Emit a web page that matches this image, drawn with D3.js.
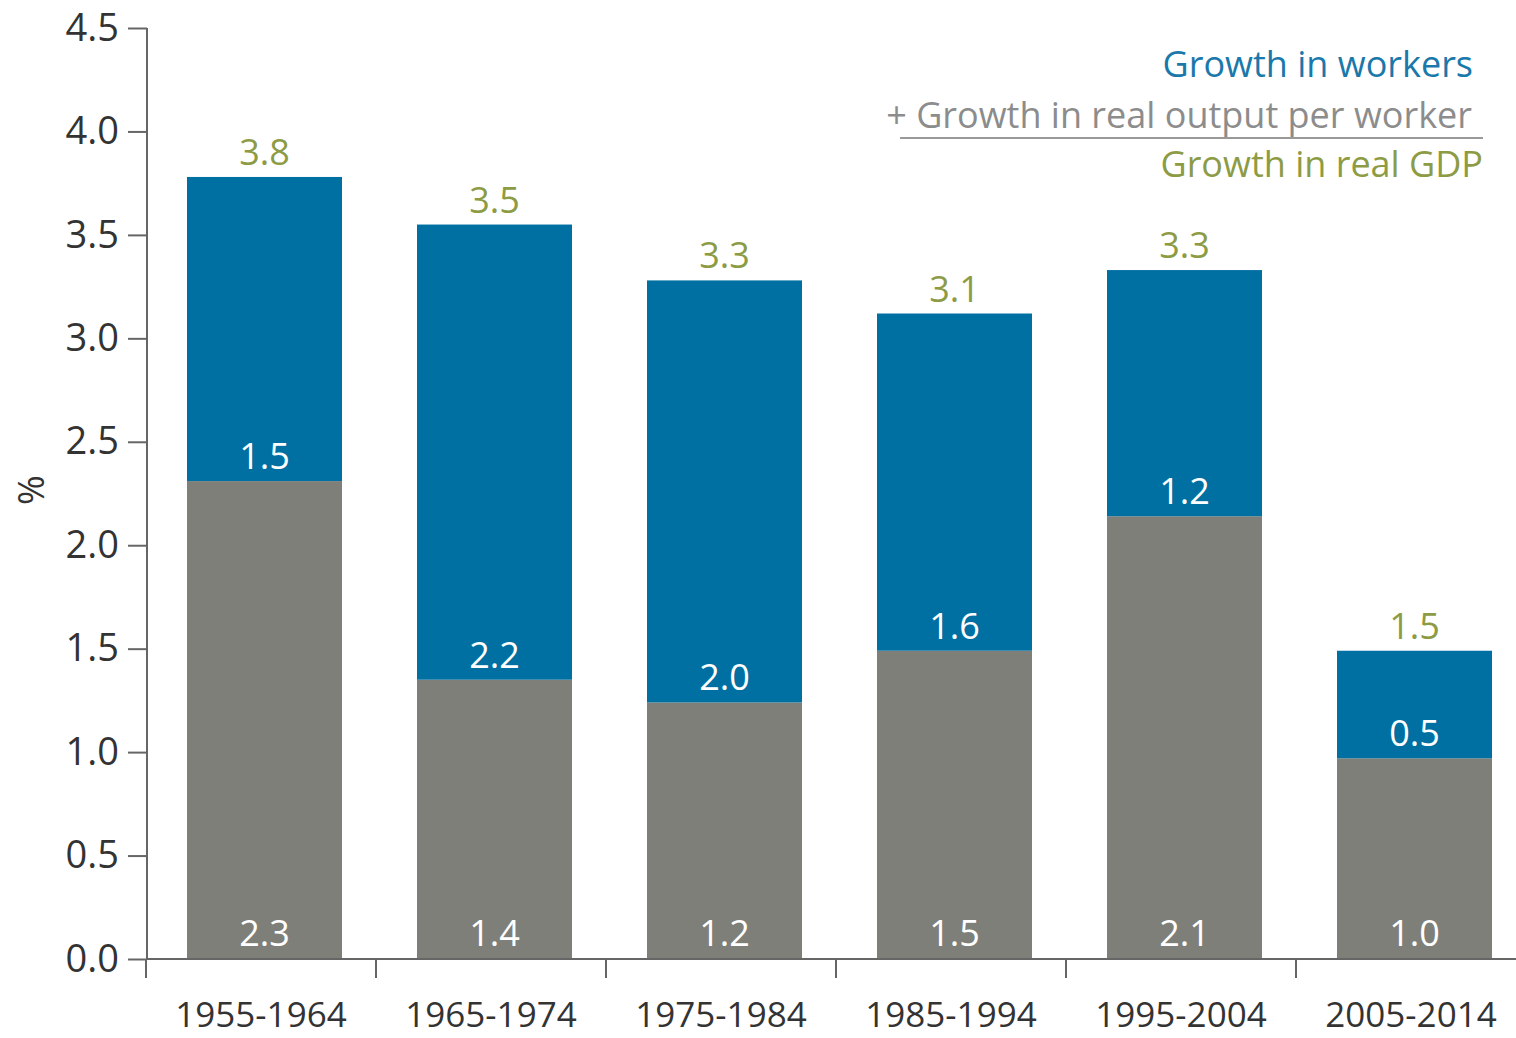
<!DOCTYPE html>
<html>
<head>
<meta charset="utf-8">
<script src="https://cdn.jsdelivr.net/npm/d3@7"></script>
<style>
  body { margin: 0; background: #fff; }
  text { font-family: "Open Sans", "Noto Sans", sans-serif; }
</style>
</head>
<body>
<div id="chart"></div>
<script>
// decades on the x axis
var periods = ["1955-1964", "1965-1974", "1975-1984", "1985-1994", "1995-2004", "2005-2014"];
// growth in real output per worker (gray, bottom) and growth in workers (blue, top), %
var outputPerWorker = [2.31, 1.35, 1.24, 1.49, 2.14, 0.97];
var workers = [1.47, 2.20, 2.04, 1.63, 1.19, 0.52];
// labels printed on the bars (as published, rounded)
var outputLabels = ["2.3", "1.4", "1.2", "1.5", "2.1", "1.0"];
var workerLabels = ["1.5", "2.2", "2.0", "1.6", "1.2", "0.5"];
var gdpLabels = ["3.8", "3.5", "3.3", "3.1", "3.3", "1.5"];
var yTicks = [0, 0.5, 1, 1.5, 2, 2.5, 3, 3.5, 4, 4.5];

var width = 1516, height = 1038;
var blue = "#0070a2", gray = "#7f7f7a", green = "#8c9b44";

var svg = d3.select("#chart")
  .append("svg")
    .attr("width", width)
    .attr("height", height);

var y = d3.scaleLinear()
    .domain([0, 4.5])
    .range([959, 28]);

// one step per decade, ticks sit on the step edges
var x = d3.scaleBand()
    .domain(periods)
    .range([146, 146 + 230 * periods.length]);
var barOffset = 41, barWidth = 155;

var data = periods.map(function(p, i) {
  return { period: p, out: outputPerWorker[i], wk: workers[i],
           outLabel: outputLabels[i], wkLabel: workerLabels[i], gdpLabel: gdpLabels[i] };
});

// bars
svg.selectAll(".out")
  .data(data)
  .enter()
  .append("rect")
    .attr("x", function(d) { return x(d.period) + barOffset; })
    .attr("y", function(d) { return y(d.out); })
    .attr("width", barWidth)
    .attr("height", function(d) { return y(0) - y(d.out); })
    .attr("fill", gray);

svg.selectAll(".wk")
  .data(data)
  .enter()
  .append("rect")
    .attr("x", function(d) { return x(d.period) + barOffset; })
    .attr("y", function(d) { return y(d.out + d.wk); })
    .attr("width", barWidth)
    .attr("height", function(d) { return y(d.out) - y(d.out + d.wk); })
    .attr("fill", blue);

// value labels
var cx = function(d) { return x(d.period) + barOffset + barWidth / 2; };
svg.selectAll(".outLab")
  .data(data)
  .enter()
  .append("text")
    .attr("x", cx)
    .attr("y", y(0) - 13)
    .attr("text-anchor", "middle")
    .attr("font-size", 36)
    .attr("fill", "#fff")
    .text(function(d) { return d.outLabel; });

svg.selectAll(".wkLab")
  .data(data)
  .enter()
  .append("text")
    .attr("x", cx)
    .attr("y", function(d) { return y(d.out) - 12; })
    .attr("text-anchor", "middle")
    .attr("font-size", 36)
    .attr("fill", "#fff")
    .text(function(d) { return d.wkLabel; });

svg.selectAll(".gdpLab")
  .data(data)
  .enter()
  .append("text")
    .attr("x", cx)
    .attr("y", function(d) { return y(d.out + d.wk) - 12; })
    .attr("text-anchor", "middle")
    .attr("font-size", 36)
    .attr("fill", green)
    .text(function(d) { return d.gdpLabel; });

// y axis
var yAxis = svg.append("g")
    .attr("transform", "translate(147,0)")
    .call(d3.axisLeft(y).tickValues(yTicks).tickFormat(d3.format(".1f")).tickSize(19).tickPadding(9));
yAxis.select(".domain").attr("stroke", "#666").attr("stroke-width", 2).attr("d", "M0," + y(4.5) + "V" + y(0));
yAxis.selectAll(".tick line").attr("stroke", "#666").attr("stroke-width", 2);
yAxis.selectAll(".tick text")
    .attr("font-size", 38)
    .attr("fill", "#333")
    .style("font-family", "'Open Sans', sans-serif");

svg.append("text")
    .attr("transform", "translate(44,490) rotate(-90)")
    .attr("text-anchor", "middle")
    .attr("font-size", 36)
    .attr("fill", "#333")
    .text("%");

// x axis
var xAxis = svg.append("g");
xAxis.append("line")
    .attr("x1", 146).attr("x2", width)
    .attr("y1", y(0)).attr("y2", y(0))
    .attr("stroke", "#666").attr("stroke-width", 2);
xAxis.selectAll(".xtick")
  .data(periods)
  .enter()
  .append("line")
    .attr("x1", function(d) { return x(d); })
    .attr("x2", function(d) { return x(d); })
    .attr("y1", y(0)).attr("y2", y(0) + 19)
    .attr("stroke", "#666").attr("stroke-width", 2);
xAxis.selectAll(".xlab")
  .data(periods)
  .enter()
  .append("text")
    .attr("x", function(d) { return x(d) + x.bandwidth() / 2; })
    .attr("y", 1027)
    .attr("text-anchor", "middle")
    .attr("font-size", 35)
    .attr("fill", "#333")
    .text(function(d) { return d; });

// legend
var legend = svg.append("g").attr("font-size", 36).attr("text-anchor", "end");
legend.append("text").attr("x", 1473).attr("y", 77).attr("fill", "#1a78aa").text("Growth in workers");
legend.append("text").attr("x", 1472).attr("y", 128).attr("fill", "#8c8c8c").text("+ Growth in real output per worker");
legend.append("line")
    .attr("x1", 900).attr("x2", 1483)
    .attr("y1", 138).attr("y2", 138)
    .attr("stroke", "#999").attr("stroke-width", 2);
legend.append("text").attr("x", 1483).attr("y", 177).attr("fill", "#8c9b44").text("Growth in real GDP");
</script>
</body>
</html>
